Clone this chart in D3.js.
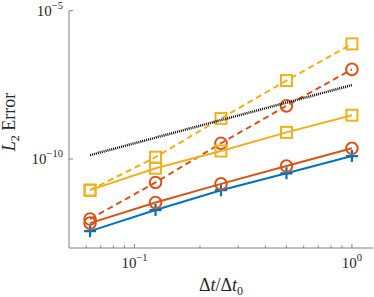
<!DOCTYPE html>
<html>
<head>
<meta charset="utf-8">
<script src="https://cdn.jsdelivr.net/npm/d3@7"></script>
<style>
  body { margin: 0; background: #fff; }
  text { font-family: "Liberation Serif", "DejaVu Serif", serif; fill: #262626; }
</style>
</head>
<body>
<div id="chart"></div>
<script>
// step size ratios (x values)
const dtRatio = [0.0625, 0.125, 0.25, 0.5, 1];

// error series
const errBlue = [3.7e-13, 1.9e-12, 8.9e-12, 3.3e-11, 1.26e-10];
const errOrange = [6.9e-13, 3.4e-12, 1.45e-11, 5.8e-11, 2.3e-10];
const errOrangeDash = [9.5e-13, 1.62e-11, 3.4e-10, 6.2e-9, 1.05e-7];
const errYellow = [8.9e-12, 4.9e-11, 1.86e-10, 7.9e-10, 3.0e-9];
const errYellowDash = [8.9e-12, 1.15e-10, 2.34e-9, 4.4e-8, 7.6e-7];

// reference slope line
const refX = [0.0625, 1];
const refY = [1.35e-10, 3.1e-8];

const xTicks = [0.1, 1];
const xTickLabels = [["10", "\u22121"], ["10", "0"]];
const yTicks = [1e-10, 1e-5];
const yTickLabels = [["10", "\u221210"], ["10", "\u22125"]];

const width = 374, height = 297;
const margin = {top: 10.7, right: 1, bottom: 49, left: 69};

const svg = d3.select("#chart").append("svg")
    .attr("width", width)
    .attr("height", height);

const x = d3.scaleLog()
    .domain([0.05, 1.25])
    .range([margin.left, width - margin.right]);

const y = d3.scaleLog()
    .domain([1e-13, 1e-5])
    .range([height - margin.bottom, margin.top]);

// axes (MATLAB style: inward ticks, no box)
const axisColor = "#808080";
const xMinor = [0.06, 0.07, 0.08, 0.09, 0.2, 0.3, 0.4, 0.5, 0.6, 0.7, 0.8, 0.9];

let xAxis = svg.append("g")
    .attr("transform", "translate(0," + y.range()[0] + ")");
xAxis.append("line")
    .attr("x1", x.range()[0]).attr("x2", x.range()[1])
    .attr("stroke", axisColor).attr("stroke-width", 1);
xAxis.selectAll(".minor")
    .data(xMinor)
    .enter().append("line")
    .attr("x1", d => x(d)).attr("x2", d => x(d))
    .attr("y1", 0).attr("y2", -2.5)
    .attr("stroke", axisColor);
xAxis.selectAll(".major")
    .data(xTicks)
    .enter().append("line")
    .attr("x1", d => x(d)).attr("x2", d => x(d))
    .attr("y1", 0).attr("y2", -4)
    .attr("stroke", axisColor);

let xLab = xAxis.selectAll(".xlab")
    .data(xTicks)
    .enter().append("text")
    .attr("x", d => x(d))
    .attr("y", 20)
    .attr("text-anchor", "middle")
    .style("font-size", "15px");
xLab.append("tspan").text((d, i) => xTickLabels[i][0]);
xLab.append("tspan")
    .attr("dy", -7)
    .style("font-size", "10.5px")
    .text((d, i) => xTickLabels[i][1]);

let yAxis = svg.append("g")
    .attr("transform", "translate(" + x.range()[0] + ",0)");
yAxis.append("line")
    .attr("y1", y.range()[0]).attr("y2", y.range()[1])
    .attr("stroke", axisColor).attr("stroke-width", 1);
yAxis.selectAll(".major")
    .data(yTicks)
    .enter().append("line")
    .attr("y1", d => y(d)).attr("y2", d => y(d))
    .attr("x1", 0).attr("x2", 4)
    .attr("stroke", axisColor);

let yLab = yAxis.selectAll(".ylab")
    .data(yTicks)
    .enter().append("text")
    .attr("x", -6)
    .attr("y", d => y(d) + 5)
    .attr("text-anchor", "end")
    .style("font-size", "15px");
yLab.append("tspan").text((d, i) => yTickLabels[i][0]);
yLab.append("tspan")
    .attr("dy", -7)
    .style("font-size", "10.5px")
    .text((d, i) => yTickLabels[i][1]);

// axis titles
let yTitle = svg.append("text")
    .attr("transform", "translate(15," + 122 + ") rotate(-90)")
    .attr("text-anchor", "middle")
    .style("font-size", "18px");
yTitle.append("tspan").style("font-style", "italic").text("L");
yTitle.append("tspan").attr("dy", 4).style("font-size", "12px").text("2");
yTitle.append("tspan").attr("dy", -4).text(" Error");

let xTitle = svg.append("text")
    .attr("x", (x.range()[0] + x.range()[1]) / 2)
    .attr("y", 291)
    .attr("text-anchor", "middle")
    .style("font-size", "18px");
xTitle.append("tspan").text("\u0394");
xTitle.append("tspan").style("font-style", "italic").text("t");
xTitle.append("tspan").text("/\u0394");
xTitle.append("tspan").style("font-style", "italic").text("t");
xTitle.append("tspan").attr("dy", 4).style("font-size", "12px").text("0");

// series
const series = [
    {vals: errBlue, color: "#0072BD", dash: null, marker: "plus"},
    {vals: errOrange, color: "#D95319", dash: null, marker: "circle"},
    {vals: errOrangeDash, color: "#D95319", dash: "6,4", marker: "circle"},
    {vals: errYellow, color: "#EDB120", dash: null, marker: "square"},
    {vals: errYellowDash, color: "#EDB120", dash: "6,4", marker: "square"}
];

const line = d3.line()
    .x(d => x(d[0]))
    .y(d => y(d[1]));

series.forEach(s => {
    let pts = dtRatio.map((d, i) => [d, s.vals[i]]);
    let g = svg.append("g");
    g.append("path")
        .datum(pts)
        .attr("d", line)
        .attr("fill", "none")
        .attr("stroke", s.color)
        .attr("stroke-width", 2)
        .attr("stroke-dasharray", s.dash);

    if (s.marker === "circle") {
        g.selectAll("circle")
            .data(pts)
            .enter().append("circle")
            .attr("cx", d => x(d[0]))
            .attr("cy", d => y(d[1]))
            .attr("r", 5.8)
            .attr("fill", "none")
            .attr("stroke", s.color)
            .attr("stroke-width", 2);
    } else if (s.marker === "square") {
        g.selectAll("rect")
            .data(pts)
            .enter().append("rect")
            .attr("x", d => x(d[0]) - 5.5)
            .attr("y", d => y(d[1]) - 5.5)
            .attr("width", 11)
            .attr("height", 11)
            .attr("fill", "none")
            .attr("stroke", s.color)
            .attr("stroke-width", 2);
    } else {
        g.selectAll("path.mk")
            .data(pts)
            .enter().append("path")
            .attr("class", "mk")
            .attr("d", d => {
                let cx = x(d[0]), cy = y(d[1]);
                return "M" + (cx - 6) + "," + cy + "H" + (cx + 6) +
                       "M" + cx + "," + (cy - 6) + "V" + (cy + 6);
            })
            .attr("stroke", s.color)
            .attr("stroke-width", 2.2);
    }
});

// dotted reference line
svg.append("path")
    .datum(refX.map((d, i) => [d, refY[i]]))
    .attr("d", line)
    .attr("fill", "none")
    .attr("stroke", "#000")
    .attr("stroke-width", 2.5)
    .attr("stroke-dasharray", "1,1");
</script>
</body>
</html>
